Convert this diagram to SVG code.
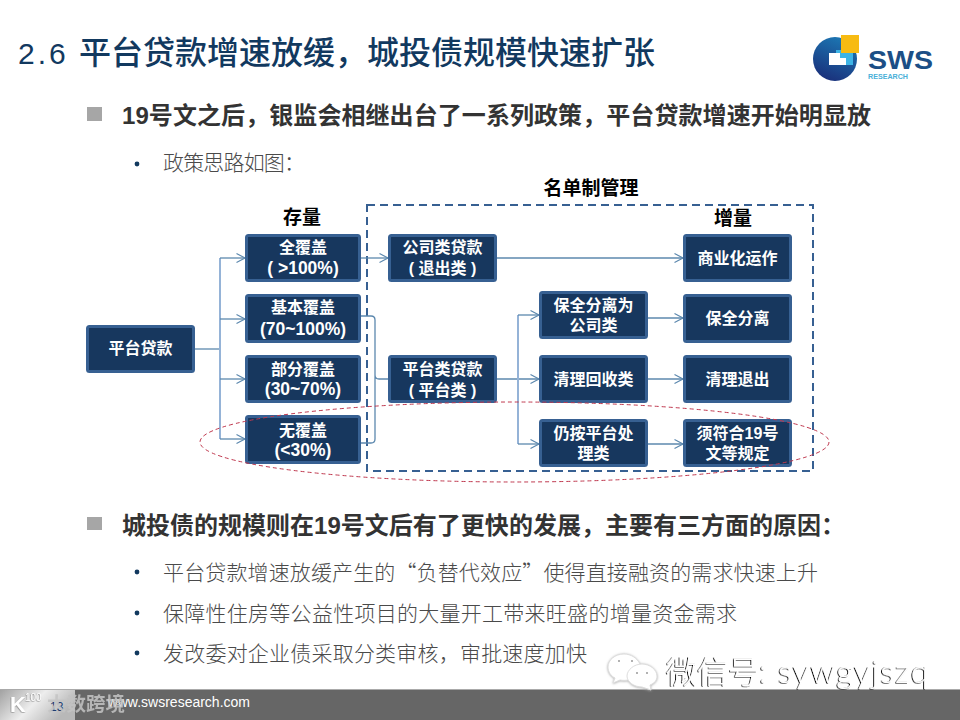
<svg xmlns="http://www.w3.org/2000/svg" width="960" height="720" viewBox="0 0 960 720">
<style>
text{font-family:"Liberation Sans","Noto Sans CJK SC",sans-serif}
.n rect{fill:#17375e;stroke:#376092;stroke-width:3}
.n text{fill:#fff;font-size:16px;font-weight:700;text-anchor:middle}
.n .l{font-size:17.500px}
.c path{fill:none;stroke:#5c88ae;stroke-width:1.300}
.c .a{marker-end:url(#arr)}
.c .t{stroke:#95b3d7;stroke-width:2}
.lab{fill:#000;font-size:19px;font-weight:700;text-anchor:middle}
.h{fill:#333;font-size:24px;font-weight:700}
.s{fill:#4a4a4a;font-size:21px;font-weight:300;font-family:"Noto Sans CJK SC",sans-serif}
.sq{fill:#a6a6a6}
.dot{fill:#12395f}
</style>
<defs>
<marker id="arr" markerUnits="userSpaceOnUse" markerWidth="11" markerHeight="13" refX="9.500" refY="6.500" orient="auto">
<path d="M1 2L9.500 6.500L1 11" fill="none" stroke="#5c88ae" stroke-width="1.200"/>
</marker>
<linearGradient id="foot" x1="0" y1="0" x2="1" y2="0.4">
<stop offset="0" stop-color="#a0a0a0"/><stop offset="0.55" stop-color="#ededed"/><stop offset="1" stop-color="#b8b8b8"/>
</linearGradient>
<linearGradient id="globe" x1="0.7" y1="0" x2="0.3" y2="1">
<stop offset="0" stop-color="#1c78b4"/><stop offset="1" stop-color="#1a2f7a"/>
</linearGradient>
<filter id="sh" x="-5%" y="-20%" width="110%" height="140%">
<feDropShadow dx="-1" dy="0.500" stdDeviation="0.200" flood-color="#000"/>
</filter>
<filter id="sb" x="-20%" y="-20%" width="140%" height="140%">
<feDropShadow dx="0" dy="0.500" stdDeviation="1" flood-color="#aaa"/>
</filter>
<filter id="sf" x="-5%" y="-20%" width="110%" height="140%">
<feDropShadow dx="-0.500" dy="0.500" stdDeviation="0.400" flood-color="#777"/>
</filter>
</defs>

<rect width="960" height="720" fill="#fff"/>

<text y="64" fill="#12395f" font-weight="500"><tspan x="18" font-size="30" letter-spacing="3">2.6</tspan><tspan x="79" font-size="32" font-family="Noto Sans CJK SC, sans-serif">平台贷款增速放缓，城投债规模快速扩张</tspan></text>

<g id="logo">
<circle cx="835" cy="59" r="22" fill="url(#globe)"/>
<rect x="836" y="50" width="17" height="15" fill="#3db4e6"/>
<path d="M829 53H840V58H846V65H829Z" fill="#fff"/>
<rect x="841" y="35" width="18" height="18" fill="#f7bb12"/>
<text x="868" y="69" font-size="25" font-weight="700" fill="#1c4f86" textLength="65" lengthAdjust="spacingAndGlyphs">SWS</text>
<text x="868" y="79" font-size="8" font-weight="700" fill="#4ab0d8" textLength="40" lengthAdjust="spacingAndGlyphs">RESEARCH</text>
</g>

<rect class="sq" x="87" y="107" width="15" height="14"/>
<text class="h" x="122" y="124" textLength="749" lengthAdjust="spacing">19号文之后，银监会相继出台了一系列政策，平台贷款增速开始明显放</text>
<circle class="dot" cx="137" cy="164" r="2.400"/>
<text class="s" x="163" y="170" textLength="142" lengthAdjust="spacing">政策思路如图：</text>

<text class="lab" x="591" y="195">名单制管理</text>
<text class="lab" x="302" y="224">存量</text>
<text class="lab" x="733" y="225">增量</text>

<rect id="list-frame" x="367" y="205" width="446" height="266" fill="none" stroke="#376092" stroke-width="2" stroke-dasharray="8 5"/>

<g id="connectors" class="c">
<path d="M195 349H220"/>
<path class="t" d="M220 258V439"/>
<path class="a" d="M220 258H245"/>
<path class="a" d="M220 319H245"/>
<path class="a" d="M220 379H245"/>
<path class="a" d="M220 439H245"/>
<path class="a" d="M361 258H388"/>
<path class="a" d="M497 258H683"/>
<path d="M361 316H371Q375 316 375 320V375Q375 379 379 379H388M375 375V439Q375 443 371 443H361"/>
<path class="a" d="M497 379H539"/>
<path class="t" d="M518 315V444"/>
<path class="a" d="M518 315H539"/>
<path class="a" d="M518 444H539"/>
<path class="a" d="M648 318H683"/>
<path class="a" d="M648 379H683"/>
<path class="a" d="M648 444H683"/>
</g>

<g id="n-loan" class="n"><rect x="87.500" y="326.500" width="106" height="45" rx="2"/><text x="140.500" y="354">平台贷款</text></g>
<g id="n-full" class="n"><rect x="246.500" y="235.500" width="113" height="45" rx="2"/><text x="303" y="253">全覆盖</text><text class="l" x="303" y="274">( &gt;100%)</text></g>
<g id="n-basic" class="n"><rect x="246.500" y="295.500" width="113" height="46" rx="2"/><text x="303" y="313">基本覆盖</text><text class="l" x="303" y="335">(70~100%)</text></g>
<g id="n-part" class="n"><rect x="246.500" y="356.500" width="113" height="45" rx="2"/><text x="303" y="375">部分覆盖</text><text class="l" x="303" y="395">(30~70%)</text></g>
<g id="n-none" class="n"><rect x="246.500" y="416.500" width="113" height="46" rx="2"/><text x="303" y="436">无覆盖</text><text class="l" x="303" y="456">(&lt;30%)</text></g>
<g id="n-corp" class="n"><rect x="389.500" y="235.500" width="106" height="45" rx="2"/><text x="442.500" y="253">公司类贷款</text><text x="442.500" y="274">( 退出类 )</text></g>
<g id="n-plat" class="n"><rect x="389.500" y="356.500" width="106" height="45" rx="2"/><text x="442.500" y="375">平台类贷款</text><text x="442.500" y="396">( 平台类 )</text></g>
<g id="n-sep" class="n"><rect x="540.500" y="292.500" width="106" height="45" rx="2"/><text x="593.500" y="311">保全分离为</text><text x="593.500" y="331">公司类</text></g>
<g id="n-clean" class="n"><rect x="540.500" y="356.500" width="106" height="45" rx="2"/><text x="593.500" y="385">清理回收类</text></g>
<g id="n-keep" class="n"><rect x="540.500" y="420.500" width="106" height="45" rx="2"/><text x="593.500" y="439">仍按平台处</text><text x="593.500" y="459">理类</text></g>
<g id="n-comm" class="n"><rect x="684.500" y="235.500" width="106" height="45" rx="2"/><text x="737.500" y="264">商业化运作</text></g>
<g id="n-iso" class="n"><rect x="684.500" y="295.500" width="106" height="46" rx="2"/><text x="737.500" y="324">保全分离</text></g>
<g id="n-exit" class="n"><rect x="684.500" y="356.500" width="106" height="45" rx="2"/><text x="737.500" y="385">清理退出</text></g>
<g id="n-rule" class="n"><rect x="684.500" y="420.500" width="106" height="45" rx="2"/><text x="737.500" y="439">须符合19号</text><text x="737.500" y="459">文等规定</text></g>

<ellipse id="highlight" cx="514.500" cy="442" rx="314.500" ry="40" fill="none" stroke="#c0394f" stroke-width="1" stroke-dasharray="4 3"/>

<rect class="sq" x="87" y="517" width="15" height="13"/>
<text class="h" x="122" y="534" textLength="723" lengthAdjust="spacing">城投债的规模则在19号文后有了更快的发展，主要有三方面的原因：</text>
<circle class="dot" cx="137" cy="572" r="2.400"/>
<text class="s" x="163" y="580" textLength="655" lengthAdjust="spacing">平台贷款增速放缓产生的“负替代效应”使得直接融资的需求快速上升</text>
<circle class="dot" cx="137" cy="613" r="2.400"/>
<text class="s" x="163" y="621" textLength="574" lengthAdjust="spacing">保障性住房等公益性项目的大量开工带来旺盛的增量资金需求</text>
<circle class="dot" cx="137" cy="653" r="2.400"/>
<text class="s" x="163" y="661" textLength="424" lengthAdjust="spacing">发改委对企业债采取分类审核，审批速度加快</text>

<g id="footer">
<rect x="0" y="689" width="960" height="31" fill="#666"/>
<rect x="0" y="689" width="75" height="31" fill="url(#foot)"/>
<rect x="0" y="689" width="960" height="1" fill="#aaa"/>
<text x="250" y="707" font-size="14" fill="#fff" text-anchor="end">www.swsresearch.com</text>
<text x="50" y="711" font-size="12" fill="#1f3a6e">13</text>
<text x="10" y="712" font-size="22" font-weight="700" fill="#fff" filter="url(#sf)">K</text>
<text x="25" y="701" font-size="10" fill="#fff" filter="url(#sf)">100</text>
<text x="47" y="711" font-size="19.500" font-weight="700" fill="#c4c4c4" opacity="0.850">大数跨境</text>
</g>

<g id="wechat">
<g fill="#fff" stroke="#ddd" stroke-width="1" filter="url(#sb)">
<path d="M624 654C615 654 608 660 608 667C608 672 611 676 615 678L613 683L620 680C626 681 630 680 634 677L640 664C637 658 631 654 624 654Z"/>
<path d="M642 664C634 664 627 670 627 676C627 682 634 687 642 687L651 690L650 685C655 683 657 680 657 676C657 670 650 664 642 664Z"/>
</g>
<g fill="#999"><circle cx="619" cy="661" r="1"/><circle cx="632" cy="661" r="1"/><circle cx="637" cy="673" r="1"/><circle cx="647" cy="673" r="1"/></g>
<text y="683" fill="#fff" filter="url(#sh)" font-weight="300"><tspan x="666" font-size="31" font-family="Noto Sans CJK SC, sans-serif">微信号:</tspan><tspan x="778" font-size="32" font-family="Lato, sans-serif" letter-spacing="1.500">sywgyjszq</tspan></text>
</g>
</svg>
